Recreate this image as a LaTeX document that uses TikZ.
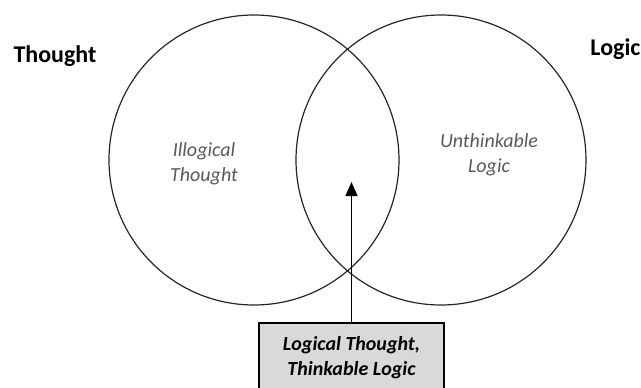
\documentclass[tikz,border=0pt]{standalone}
\usepackage{fontspec}
\setmainfont{Carlito}
\usetikzlibrary{positioning,arrows.meta}
\definecolor{Gray}{gray}{0.85}
\definecolor{Inner}{HTML}{595959}

\begin{document}
\begin{tikzpicture}[x=1pt, y=-1pt, every node/.style={font=\fontsize{20}{25}\selectfont}]
\tikzstyle{set}=[draw=black!85, line width=1.2pt, circle, minimum size=290pt, inner sep=0pt]
\tikzstyle{title}=[font=\fontsize{24}{28}\selectfont\bfseries]
\tikzstyle{inner}=[align=center, text=Inner, font=\fontsize{20}{25}\selectfont\itshape]
\tikzstyle{box}=[draw, line width=1.6pt, fill=Gray, minimum width=185pt, text height=49pt, text depth=40pt, anchor=north, align=center, font=\fontsize{20}{25}\selectfont\bfseries\itshape]
\useasboundingbox (0,0) rectangle (641,388);
\node[set] (thought) at (254,160) {};
\node[set] (logic) at (441,160) {};
\node[title] (tlabel) at (55,56) {Thought};
\node[title, anchor=east] (llabel) at (644,49) {Logic};
\node[inner] (illogical) at (204,164) {Illogical\\Thought};
\node[inner] (unthinkable) at (489,155) {Unthinkable\\Logic};
\node[box] (both) at (351.5,322) {Logical Thought,\\Thinkable Logic};
\coordinate (tip) at (351.5,182);
\draw[-{Triangle[length=14pt, width=12pt]}, line width=1.6pt] (both) -- (tip);
\end{tikzpicture}
\end{document}
